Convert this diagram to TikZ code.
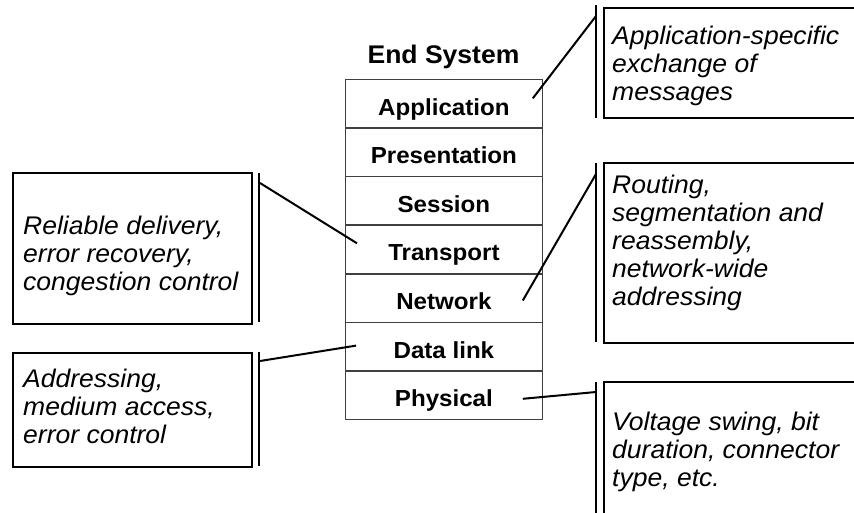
\documentclass[tikz,border=0pt]{standalone}
\usepackage{fontspec}
\newfontfamily\arialx[FakeStretch=1.04]{Liberation Sans}
\usetikzlibrary{calc}
\begin{document}
\begin{tikzpicture}[x=1pt,y=-1pt,
  layer/.style={draw=black!75, line width=0.8pt, minimum width=197pt, minimum height=47.86pt, inner sep=0pt, anchor=north west},
  layertext/.style={font=\arialx\bfseries\fontsize{23.2}{27}\selectfont, anchor=base, inner sep=0pt},
  titletext/.style={font=\arialx\bfseries\fontsize{25.5}{29}\selectfont, anchor=base, inner sep=0pt},
  callbox/.style={draw, line width=1.8pt, anchor=north west, inner sep=0pt},
  calltext/.style={font=\arialx\itshape\fontsize{25.5}{28}\selectfont, align=left, anchor=north west, inner sep=0pt},
  accentbar/.style={line width=2.4pt},
  conn/.style={line width=2pt},
]
\useasboundingbox (0,0) rectangle (854,512);
\clip (0,0) rectangle (854,512);

% title
\node[titletext] (title) at (443.5,63) {End System};

% layer stack
\node[layer] (app)   at (345,79) {};
\node[layer] (pres)  at (app.south west) {};
\node[layer] (sess)  at (pres.south west) {};
\node[layer] (trans) at (sess.south west) {};
\node[layer] (net)   at (trans.south west) {};
\node[layer] (dl)    at (net.south west) {};
\node[layer] (phys)  at (dl.south west) {};

\node[layertext] (appt)   at ($(app.north)+(0,36)$)   {Application};
\node[layertext] (prest)  at ($(pres.north)+(0,36)$)  {Presentation};
\node[layertext] (sesst)  at ($(sess.north)+(0,36)$)  {Session};
\node[layertext] (transt) at ($(trans.north)+(0,36)$) {Transport};
\node[layertext] (nett)   at ($(net.north)+(0,36)$)   {Network};
\node[layertext] (dlt)    at ($(dl.north)+(0,36)$)    {Data link};
\node[layertext] (physt)  at ($(phys.north)+(0,36)$)  {Physical};

% left callout boxes
\node[callbox, minimum width=239pt, minimum height=151pt] (tbox) at (12,172) {};
\node[calltext] (ttext) at (23,216) {Reliable delivery,\\error recovery,\\congestion control};
\coordinate (tbarT) at (259,173);
\coordinate (tbarB) at (259,322);
\draw[accentbar] (tbarT) -- (tbarB);

\node[callbox, minimum width=239pt, minimum height=114pt] (dbox) at (12,352) {};
\node[calltext] (dtext) at (23,369) {Addressing,\\medium access,\\error control};
\coordinate (dbarT) at (259,352);
\coordinate (dbarB) at (259,466);
\draw[accentbar] (dbarT) -- (dbarB);

% right callout boxes
\node[callbox, minimum width=300pt, minimum height=110pt] (abox) at (603,7) {};
\node[calltext] (atext) at (612,26) {Application-specific\\exchange of\\messages};
\coordinate (abarT) at (596,5);
\coordinate (abarB) at (596,118);
\draw[accentbar] (abarT) -- (abarB);

\node[callbox, minimum width=300pt, minimum height=180pt] (nbox) at (603,162) {};
\node[calltext] (ntext) at (612,175) {Routing,\\segmentation and\\reassembly,\\network-wide\\addressing};
\coordinate (nbarT) at (596,163);
\coordinate (nbarB) at (596,342);
\draw[accentbar] (nbarT) -- (nbarB);

\node[callbox, minimum width=300pt, minimum height=200pt] (pbox) at (603,381) {};
\node[calltext] (ptext) at (612,412) {Voltage swing, bit\\duration, connector\\type, etc.};
\coordinate (pbarT) at (596,382);
\coordinate (pbarB) at (596,520);
\draw[accentbar] (pbarT) -- (pbarB);

% connectors
\coordinate (tS) at (260,183);
\coordinate (dS) at (260,361);
\coordinate (aS) at (596,16);
\coordinate (nS) at (596,174);
\coordinate (pS) at (596,392);
\draw[conn] (tS) -- ($(trans.west)+(12,-6)$);
\draw[conn] (dS) -- ($(dl.west)+(11,-1)$);
\draw[conn] (aS) -- ($(app.east)+(-10,-5)$);
\draw[conn] (nS) -- ($(net.east)+(-20,2.5)$);
\draw[conn] (pS) -- ($(phys.east)+(-20,3.5)$);
\end{tikzpicture}
\end{document}
